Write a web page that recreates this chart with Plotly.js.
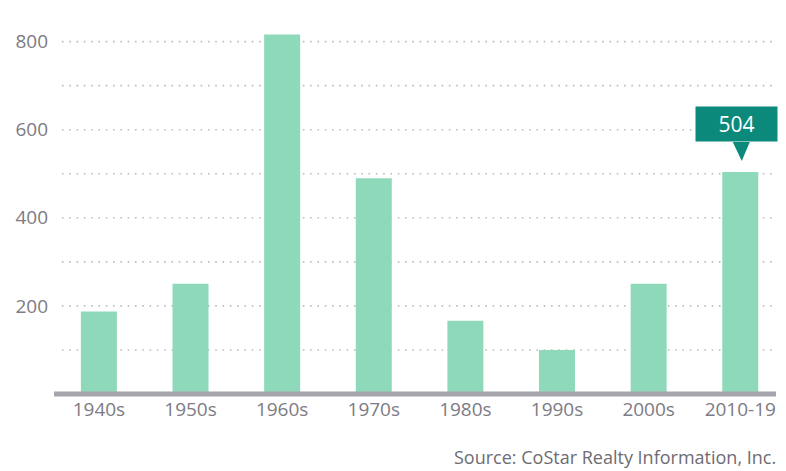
<!DOCTYPE html>
<html>
<head>
<meta charset="utf-8">
<script src="https://cdn.plot.ly/plotly-3.0.1.min.js"></script>
<style>html,body{margin:0;padding:0;background:#fff}#chart{width:786px;height:471px}</style>
</head>
<body>
<div id="chart"></div>
<script>
const categories = ['1940s','1950s','1960s','1970s','1980s','1990s','2000s','2010-19'];
const values = [187, 250, 816, 490, 166, 100, 250, 504];
const yTickVals = [100, 200, 300, 400, 500, 600, 700, 800];
const yTickText = ['', '200', '', '400', '', '600', '', '800'];
const highlightIndex = 7;
const sourceText = 'Source: CoStar Realty Information, Inc.';

const FONT = 'Open Sans, Noto Sans, sans-serif';
const teal = '#0b8a7b';

const trace = {
  type: 'bar',
  x: categories,
  y: values,
  marker: {color: '#8fd9bb'},
  hoverinfo: 'x+y'
};

const gridShapes = yTickVals.map(v => ({
  type: 'line', xref: 'paper', yref: 'y', x0: 0.011, x1: 0.996, y0: v, y1: v,
  line: {color: '#bdbdc1', width: 1.6, dash: '1.6px,5.7px'}, layer: 'below'
}));

const layout = {
  width: 786, height: 471,
  margin: {l: 54, r: 10, t: 20, b: 77},
  paper_bgcolor: '#fff', plot_bgcolor: '#fff',
  bargap: 0.607,
  showlegend: false,
  font: {family: FONT, color: '#7d7b83', size: 19},
  xaxis: {
    type: 'category',
    range: [-0.49, 7.39],
    showgrid: false, zeroline: false, showline: false,
    ticks: '', tickfont: {size: 19, color: '#7d7b83'},
    ticklabelstandoff: 2,
    fixedrange: true
  },
  yaxis: {
    range: [0, 849],
    tickvals: yTickVals, ticktext: yTickText,
    showgrid: false, zeroline: false, showline: false, ticks: '',
    tickfont: {size: 19, color: '#7d7b83'},
    ticklabelstandoff: 5,
    fixedrange: true
  },
  shapes: gridShapes.concat([
    {type: 'line', xref: 'paper', yref: 'paper', x0: 0, x1: 1, y0: 0, y1: 0,
     line: {color: '#a6a4ad', width: 5}, layer: 'above'},
    {type: 'path', xref: 'x', yref: 'y', xsizemode: 'pixel', ysizemode: 'pixel',
     xanchor: highlightIndex, yanchor: values[highlightIndex],
     path: 'M -7.5,30 L 9.5,30 L 1.5,11 Z',
     fillcolor: teal, line: {width: 0}}
  ]),
  annotations: [
    {xref: 'x', yref: 'y', x: highlightIndex, y: values[highlightIndex],
     text: String(values[highlightIndex]), showarrow: false,
     yanchor: 'bottom', xanchor: 'center', yshift: 30, xshift: -4,
     width: 81, height: 34, bgcolor: teal, borderpad: 0,
     font: {family: FONT, size: 21, color: '#ffffff'}},
    {xref: 'paper', yref: 'paper', x: 1.003, y: -0.168, xanchor: 'right', yanchor: 'middle',
     text: sourceText, showarrow: false,
     font: {family: FONT, size: 18, color: '#6e6c72'}}
  ]
};

Plotly.newPlot('chart', [trace], layout, {displayModeBar: false, staticPlot: true});
</script>
</body>
</html>
